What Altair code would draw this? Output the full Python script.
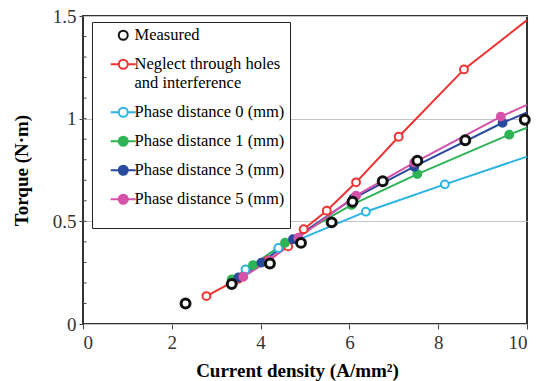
import altair as alt
import pandas as pd

series_names = [
    "Measured",
    "Neglect through holes and interference",
    "Phase distance 0 (mm)",
    "Phase distance 1 (mm)",
    "Phase distance 3 (mm)",
    "Phase distance 5 (mm)",
]
stroke_colors = ["#111111", "#f03232", "#2bb3e6", "#2eb356", "#2a4a9e", "#d452a8"]
fill_colors = ["#ffffff", "#ffffff", "#ffffff", "#2eb356", "#2a4a9e", "#d452a8"]

measured_x = [2.31, 3.35, 4.21, 4.91, 5.60, 6.07, 6.75, 7.53, 8.61, 9.95]
measured_y = [0.10, 0.195, 0.295, 0.395, 0.495, 0.595, 0.695, 0.795, 0.895, 0.995]

neglect_x = [2.78, 3.50, 4.17, 4.62, 4.97, 5.49, 6.15, 7.11, 8.58]
neglect_y = [0.136, 0.22, 0.31, 0.378, 0.462, 0.552, 0.69, 0.912, 1.24]
neglect_edge_y = 1.48

phase0_x = [3.66, 4.40, 6.37, 8.15]
phase0_y = [0.266, 0.37, 0.547, 0.68]
phase0_edge_y = 0.815

phase1_x = [3.35, 3.83, 4.55, 6.05, 7.53, 9.60]
phase1_y = [0.217, 0.287, 0.396, 0.58, 0.73, 0.922]
phase1_edge_y = 0.956

phase3_x = [3.50, 4.02, 4.73, 6.09, 7.46, 9.45]
phase3_y = [0.227, 0.299, 0.413, 0.612, 0.766, 0.98]
phase3_edge_y = 1.03

phase5_x = [3.61, 4.20, 4.85, 6.15, 7.46, 9.41]
phase5_y = [0.23, 0.31, 0.42, 0.625, 0.786, 1.01]
phase5_edge_y = 1.067

x_edge = 10.0

x_tick_values = [0, 2, 4, 6, 8, 10]
y_tick_values = [0, 0.5, 1, 1.5]
y_minor_values = [0.1, 0.2, 0.3, 0.4, 0.5, 0.6, 0.7, 0.8, 0.9, 1.0, 1.1, 1.2, 1.3, 1.4]

rows = []
def add(name, xs, ys, edge_y=None):
    for a, b in zip(xs, ys):
        rows.append({"series": name, "x": a, "y": b, "marker": True})
    if edge_y is not None:
        rows.append({"series": name, "x": x_edge, "y": edge_y, "marker": False})

add(series_names[1], neglect_x, neglect_y, neglect_edge_y)
add(series_names[2], phase0_x, phase0_y, phase0_edge_y)
add(series_names[3], phase1_x, phase1_y, phase1_edge_y)
add(series_names[4], phase3_x, phase3_y, phase3_edge_y)
add(series_names[5], phase5_x, phase5_y, phase5_edge_y)
add(series_names[0], measured_x, measured_y)
df = pd.DataFrame(rows)
minor_df = pd.DataFrame({"y": y_minor_values, "x0": 0.0, "x1": 0.08})

FONT = "Liberation Serif"

x_scale = alt.Scale(domain=[0, 10], nice=False)
x_axis = alt.Axis(
    values=x_tick_values,
    title="Current density (A/mm²)",
    grid=False,
    domain=False,
    tickSize=5,
    tickColor="#444",
    labelPadding=4,
    titlePadding=9,
    titleX=214,
)
x_enc = alt.X("x:Q", scale=x_scale, axis=x_axis)

y_scale = alt.Scale(domain=[0, 1.5], nice=False)
y_main = alt.Y(
    "y:Q",
    scale=y_scale,
    axis=alt.Axis(
        orient="left",
        values=y_tick_values,
        format=".1~f",
        title="Torque (N·m)",
        grid=True,
        gridColor="#c4c4c4",
        gridWidth=1,
        domain=False,
        tickSize=4,
        tickColor="#444",
        labelPadding=3,
        titlePadding=21,
    ),
)

stroke_scale = alt.Scale(domain=series_names, range=stroke_colors)
fill_scale = alt.Scale(domain=series_names, range=fill_colors)

circle_path = "M-0.9,0A0.9,0.9 0 1,1 0.9,0A0.9,0.9 0 1,1 -0.9,0Z"
line_circle_path = "M-2.5,0L-0.9,0M0.9,0L2.5,0" + circle_path
sym_expr = (
    "datum.value == 'Measured' ? '" + circle_path + "' : '" + line_circle_path + "'"
)
label_expr = (
    "datum.label == 'Neglect through holes and interference' ? "
    "['Neglect through holes', 'and interference'] : datum.label"
)

# blank (no-break spaces) legend footer: only reserves the empty room of the box
legend_spacer = "\u00a0" * 56

legend = alt.Legend(
    orient="none",
    legendX=9,
    legendY=6,
    title=legend_spacer,
    titleOrient="bottom",
    titleFont=FONT,
    titleFontSize=14,
    titleLimit=1000,
    titlePadding=1,
    labelFont=FONT,
    labelFontSize=16.5,
    labelColor="black",
    labelLimit=400,
    labelExpr=label_expr,
    symbolType={"expr": sym_expr},
    symbolSize=100,
    symbolStrokeWidth=2,
    rowPadding=11,
    padding=5,
    symbolOffset=18,
    labelOffset=3,
    strokeColor="#222",
    fillColor="white",
)

base = alt.Chart(df)

lines = base.transform_filter(alt.datum.series != "Measured").mark_line(
    strokeWidth=2
).encode(
    x=x_enc,
    y=y_main,
    stroke=alt.Stroke("series:N", scale=stroke_scale, legend=legend),
)

minor = alt.Chart(minor_df).mark_rule(color="#444", strokeWidth=1).encode(
    x=alt.X("x0:Q", scale=x_scale, axis=x_axis),
    x2="x1:Q",
    y=alt.Y("y:Q", scale=y_scale),
)

points = base.transform_filter(alt.datum.marker == True).mark_point(
    filled=True, opacity=1
).encode(
    x=x_enc,
    y=alt.Y("y:Q", scale=y_scale),
    stroke=alt.Stroke("series:N", scale=stroke_scale, legend=legend),
    fill=alt.Fill("series:N", scale=fill_scale, legend=legend),
    size=alt.condition(alt.datum.series == "Measured", alt.value(80), alt.value(62)),
    strokeWidth=alt.condition(alt.datum.series == "Measured", alt.value(3), alt.value(2)),
)

chart = (
    alt.layer(lines, minor, points)
    .properties(
        width=444,
        height=308,
        autosize=alt.AutoSizeParams(type="none"),
        padding={"left": 83, "top": 16, "right": 25, "bottom": 57},
    )
    .configure_view(stroke="#333", strokeWidth=2)
    .configure_axis(
        labelFont=FONT,
        labelFontSize=19,
        labelColor="#333",
        titleFont=FONT,
        titleFontSize=19,
        titleFontWeight="bold",
        titleColor="black",
    )
)

chart.save("out.html", embed_options={"renderer": "svg", "actions": False})
